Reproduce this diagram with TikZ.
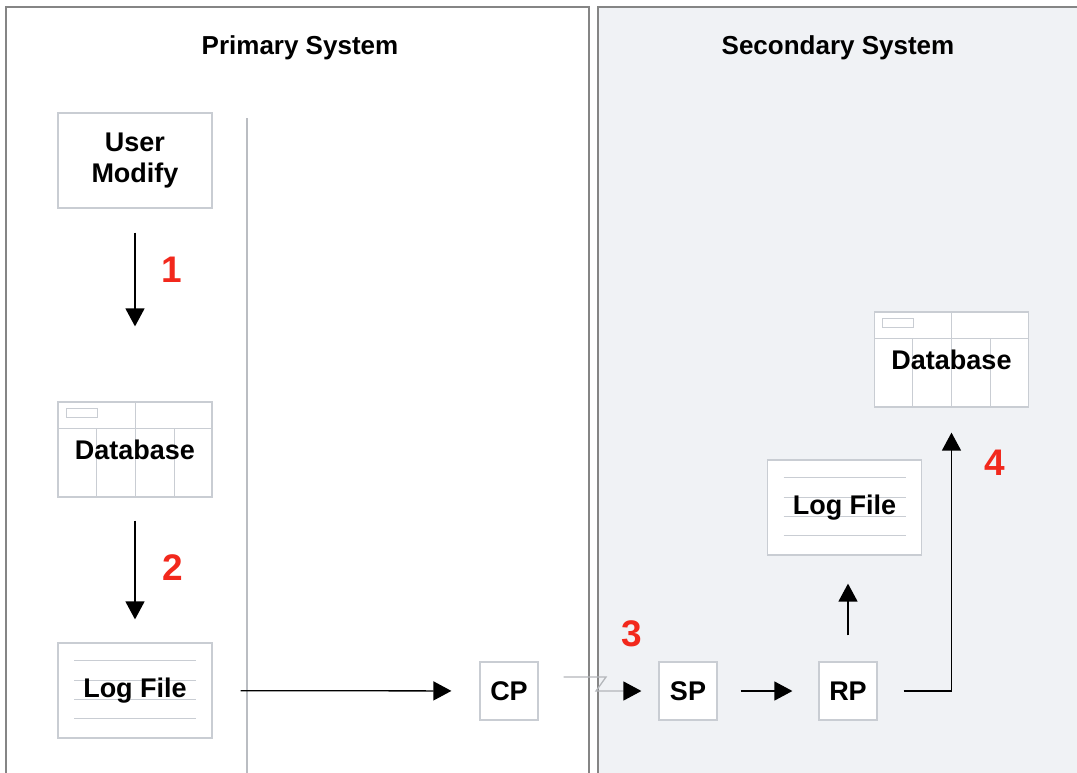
\documentclass[tikz,border=0pt]{standalone}
\usepackage{fontspec}
\setmainfont{Liberation Sans}
\usetikzlibrary{arrows.meta,positioning}

\definecolor{panelgray}{HTML}{F0F2F5}
\definecolor{boxline}{HTML}{C9CDD3}
\definecolor{framegray}{HTML}{858585}
\definecolor{stepred}{HTML}{F2281C}

\tikzset{
  flow/.style={-{Triangle[length=9pt,width=9.5pt]}, line width=0.65pt},
  box/.style={draw=boxline, fill=white, line width=0.6pt, inner sep=0pt,
    font=\bfseries\fontsize{13.5}{15.5}\selectfont},
  procbox/.style={box, minimum width=29pt, minimum height=29pt},
  bigbox/.style={box, minimum width=77pt, minimum height=47.5pt, align=center},
  logbox/.style={bigbox, path picture={
      \foreach \d in {8.5,18.5,28,37.5}
        \draw[boxline, line width=0.5pt]
          ([xshift=8pt,yshift=-\d pt]path picture bounding box.north west) --
          ([xshift=-8pt,yshift=-\d pt]path picture bounding box.north east);
    }},
  dbbox/.style={bigbox, path picture={
      \draw[boxline, line width=0.5pt]
        ([yshift=-13pt]path picture bounding box.north west) --
        ([yshift=-13pt]path picture bounding box.north east)
        (path picture bounding box.north) -- (path picture bounding box.south)
        ([xshift=4pt,yshift=-3pt]path picture bounding box.north west) rectangle
        ([xshift=19.5pt,yshift=-7.5pt]path picture bounding box.north west);
      \foreach \d in {19,58}
        \draw[boxline, line width=0.5pt]
          ([xshift=\d pt,yshift=-13pt]path picture bounding box.north west) --
          ([xshift=\d pt]path picture bounding box.south west);
    }},
  steplabel/.style={text=stepred, font=\bfseries\fontsize{18.5}{20}\selectfont},
  systitle/.style={font=\bfseries\fontsize{13}{15}\selectfont}
}

\begin{document}
\begin{tikzpicture}[x=0.5pt, y=-0.5pt]
  \useasboundingbox (0,0) rectangle (1077,772);
  \clip (0,0) rectangle (1077,772);

  % the two systems
  \draw[framegray, line width=0.6pt] (6,7) rectangle (589,790);
  \draw[framegray, fill=panelgray, line width=0.6pt] (598,7) rectangle (1090,790);
  \draw[boxline!80!gray, line width=0.6pt] (247,118) -- (247,790);

  \node[systitle] (primary) at (300,48) {Primary System};
  \node[systitle] (secondary) at (838,48) {Secondary System};

  % primary side
  \node[bigbox] (user) at (135,160.5) {User\\Modify};
  \node[dbbox] (dbA) at (135,449.5) {Database};
  \node[logbox] (logA) at (135,690.5) {Log File};
  \node[procbox] (cp) at (509,691) {CP};

  % secondary side
  \node[procbox] (sp) at (688,691) {SP};
  \node[procbox] (rp) at (848,691) {RP};
  \node[logbox] (logB) at (844.5,507.5) {Log File};
  \node[dbbox] (dbB) at (951.5,359.5) {Database};

  % steps
  \node[steplabel] (one) at (172,270) {1};
  \node[steplabel] (two) at (173,568) {2};
  \node[steplabel] (three) at (632,634) {3};
  \node[steplabel] (four) at (995,463) {4};

  % flows
  \draw[flow, shorten <=12pt, shorten >=37.5pt] (user) -- (dbA);
  \draw[flow, shorten <=11.5pt, shorten >=11.5pt] (dbA) -- (logA);
  \draw[flow, shorten <=14pt, shorten >=14pt] (logA) -- (cp);
  \coordinate (brk1) at (606,677);
  \coordinate (brk2) at (596,691);
  \draw[flow, boxline!70!gray, -{Triangle[length=9pt,width=9.5pt,color=black]}]
    ([xshift=12.5pt,yshift=7pt]cp.east) -- (brk1) -- (brk2) -- ([xshift=-8.5pt]sp.west);
  \draw[flow, shorten <=11.5pt, shorten >=13pt] (sp) -- (rp);
  \draw[flow, shorten <=13pt, shorten >=14pt] (rp.north) -- (rp.north |- logB.south);
  \draw[flow, shorten <=13pt, shorten >=12.5pt] (rp.east) -| (dbB.south);
\end{tikzpicture}
\end{document}
